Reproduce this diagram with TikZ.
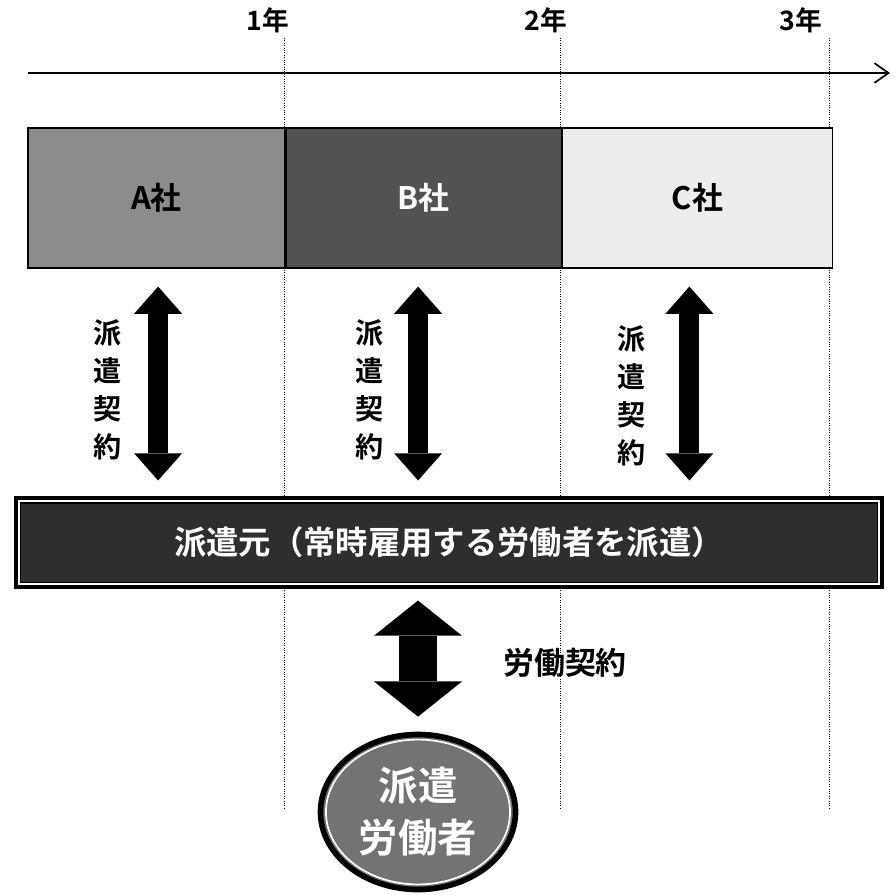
\documentclass[tikz,border=0pt]{standalone}
\usepackage{fontspec}
\setmainfont{Noto Sans CJK JP}[BoldFont={Noto Sans CJK JP Bold}]
\usetikzlibrary{positioning,arrows.meta,shapes.geometric}

\tikzset{
  company/.style={draw=black, line width=0.8pt, minimum height=3.5cm, inner sep=0pt,
    font=\fontsize{22}{24}\selectfont\bfseries},
  guide/.style={densely dotted, line width=0.7pt, black},
  contract/.style={line width=0.5cm, shorten <=0.45cm, shorten >=0.4cm,
    {Triangle[length=0.68cm,width=1.2cm,line width=0pt]}-{Triangle[length=0.68cm,width=1.2cm,line width=0pt]}},
  labour/.style={line width=0.95cm, shorten <=0.3cm, shorten >=0.375cm,
    {Triangle[length=0.88cm,width=2.2cm,line width=0pt]}-{Triangle[length=0.88cm,width=2.2cm,line width=0pt]}},
  vlabel/.style={align=center, inner sep=0pt, font=\fontsize{20}{27}\selectfont\bfseries},
  year/.style={inner sep=0pt, font=\fontsize{19}{20}\selectfont\bfseries},
}

\begin{document}
\begin{tikzpicture}[x=0.025cm, y=-0.025cm]
    \useasboundingbox (0,0) rectangle (895,895);
    % year marks and guides
    \node [year] (y1) at (268,20) {1年};
    \node [year] (y2) at (546,20) {2年};
    \node [year] (y3) at (801,20) {3年};
    \foreach \gx/\gn in {284/1, 560/2, 829/3} {
      \coordinate (g\gn top) at (\gx,38);
      \coordinate (g\gn bot) at (\gx,808);
      \draw [guide] (g\gn top) -- (g\gn bot);
    }
    % time axis
    \coordinate (t0) at (28,73);
    \coordinate (t1) at (890,73);
    \draw [line width=1.2pt, -{Straight Barb[length=10pt,width=14pt]}] (t0) -- (t1);
    % place nodes
    \node [company, fill=black!45, minimum width=6.425cm] (A) at (156.5,198) {A社};
    \node [company, fill=black!68, minimum width=6.875cm, text=white, right=0pt of A] (B) {B社};
    \node [company, fill=black!7, minimum width=6.75cm, right=0pt of B] (C) {C社};
    \node [draw=black, line width=5pt, fill=black!82, minimum width=21.55cm, minimum height=2.125cm,
      text=white, font=\fontsize{23}{24}\selectfont\bfseries] (bar) at (449,542.5) {派遣元（常時雇用する労働者を派遣）};
    \draw [white, line width=1.2pt] ([shift={(0.12cm,-0.12cm)}]bar.north west) rectangle ([shift={(-0.12cm,0.12cm)}]bar.south east);
    \node [ellipse, draw=black, line width=4pt, fill=black!55, minimum width=4.875cm, minimum height=3.875cm,
      align=center, text=white, font=\fontsize{28}{37}\selectfont\bfseries] (worker) at (418,812) {派遣\\労働者};
    \draw [white, line width=1.2pt] (worker.center) ellipse [x radius=2.3cm, y radius=1.81cm];
    \node [vlabel] (l1) at (108,390) {派\\遣\\契\\約};
    \node [vlabel] (l2) at (370,390) {派\\遣\\契\\約};
    \node [vlabel] (l3) at (632,396) {派\\遣\\契\\約};
    \node [inner sep=0pt, font=\fontsize{22}{24}\selectfont\bfseries] (lab) at (565,663) {労働契約};
    % draw edges
    \draw [contract] ([xshift=0.04cm]A.south) -- ([xshift=0.04cm]A.south |- bar.north);
    \draw [contract] ([xshift=-0.14cm]B.south) -- ([xshift=-0.14cm]B.south |- bar.north);
    \draw [contract] ([xshift=-0.2cm]C.south) -- ([xshift=-0.2cm]C.south |- bar.north);
    \draw [labour] (worker.north |- bar.south) -- (worker.north);
  \end{tikzpicture}
\end{document}
